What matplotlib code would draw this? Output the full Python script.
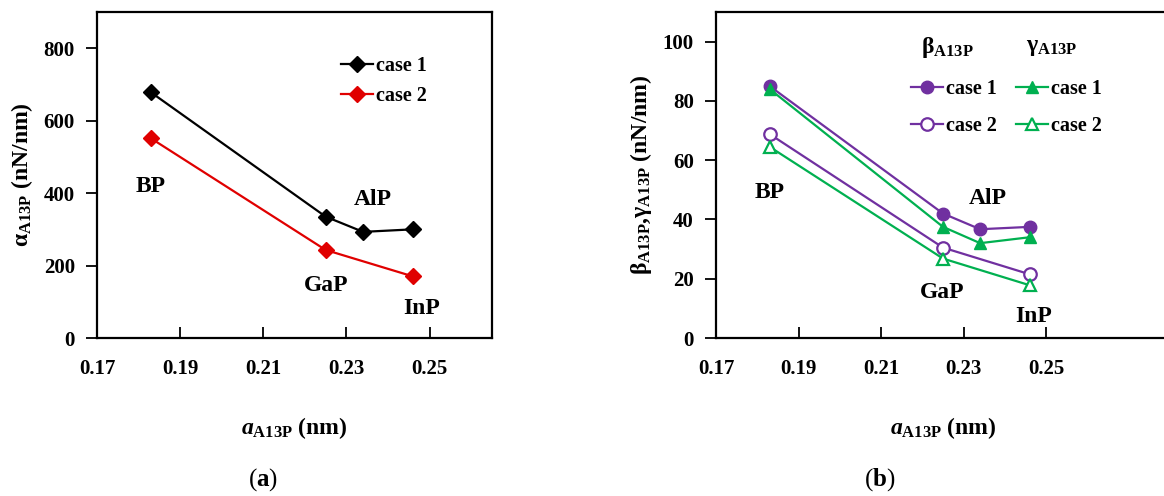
import matplotlib
matplotlib.use('Agg')
import matplotlib.pyplot as plt

plt.rcParams['font.family'] = ['Liberation Serif', 'DejaVu Serif']
plt.rcParams['font.weight'] = 'bold'
plt.rcParams['axes.labelweight'] = 'bold'
plt.rcParams['mathtext.fontset'] = 'custom'
plt.rcParams['mathtext.rm'] = 'Liberation Serif:bold'
plt.rcParams['mathtext.it'] = 'Liberation Serif:italic:bold'
plt.rcParams['mathtext.bf'] = 'Liberation Serif:bold'

# lattice parameter of the A13P compounds (nm)
compounds = ['BP', 'GaP', 'AlP', 'InP']
a_all = [0.183, 0.225, 0.234, 0.246]
a_c2 = [0.183, 0.225, 0.246]

# (a) alpha
alpha_c1 = [678, 335, 293, 300]
alpha_c2 = [551, 243, 170]

# (b) beta and gamma
beta_c1 = [85.0, 42.0, 36.7, 37.5]
beta_c2 = [68.8, 30.5, 21.5]
gamma_c1 = [84.0, 37.5, 32.0, 34.0]
gamma_c2 = [64.5, 26.8, 17.8]

# label positions (data coords)
lab_a = {'BP': (0.183, 419), 'AlP': (0.2363, 383), 'GaP': (0.2251, 146), 'InP': (0.248, 82)}
lab_b = {'BP': (0.183, 49), 'AlP': (0.2358, 47), 'GaP': (0.2247, 15.3), 'InP': (0.2469, 7.4)}

purple = '#7030A0'
green = '#00B050'
red = '#E00000'

W, H = 1164, 496
fig = plt.figure(figsize=(W / 100, H / 100), dpi=100)

ax1 = fig.add_axes([97 / W, (H - 338) / H, 395 / W, 326 / H])
ax2 = fig.add_axes([716 / W, (H - 338) / H, 454 / W, 326 / H])

ax1.plot(a_all, alpha_c1, '-D', color='black', lw=1.6, ms=8.5, label='case 1')
ax1.plot(a_c2, alpha_c2, '-D', color=red, lw=1.6, ms=8.5, label='case 2')
ax1.set_xlim(0.17, 0.265)
ax1.set_ylim(0, 900)
ax1.set_yticks([0, 200, 400, 600, 800])
ax1.set_ylabel(r'α$_{\mathrm{A13P}}$ (nN/nm)', fontsize=17, labelpad=6)
ax1.legend(loc='upper left', bbox_to_anchor=(333 / W, (H - 48) / H), bbox_transform=fig.transFigure,
           frameon=False, fontsize=14.5, handlelength=1.6, handletextpad=0.15, labelspacing=0.5,
           borderaxespad=0)
for k, (x, y) in lab_a.items():
    ax1.text(x, y, k, ha='center', va='center', fontsize=17)

ax2.plot(a_all, beta_c1, '-o', color=purple, lw=1.6, ms=9, label='case 1')
ax2.plot(a_c2, beta_c2, '-o', color=purple, lw=1.6, ms=9, mfc='white', mew=1.6, label='case 2')
ax2.plot(a_all, gamma_c1, '-^', color=green, lw=1.6, ms=9, label='case 1')
ax2.plot(a_c2, gamma_c2, '-^', color=green, lw=1.6, ms=9, mfc='white', mew=1.6, label='case 2')
ax2.set_xlim(0.17, 0.28)
ax2.set_ylim(0, 110)
ax2.set_yticks([0, 20, 40, 60, 80, 100])
ax2.set_ylabel(r'β$_{\mathrm{A13P}}$,γ$_{\mathrm{A13P}}$ (nN/nm)', fontsize=17, labelpad=6)
for k, (x, y) in lab_b.items():
    ax2.text(x, y, k, ha='center', va='center', fontsize=17)

h = ax2.get_lines()
leg_kw = dict(frameon=False, fontsize=14.5, handlelength=1.6, handletextpad=0.15,
              labelspacing=0.85, borderaxespad=0, loc='upper left', bbox_transform=fig.transFigure)
legb = ax2.legend(h[:2], ['case 1', 'case 2'], bbox_to_anchor=(903 / W, (H - 71) / H), **leg_kw)
ax2.add_artist(legb)
ax2.legend(h[2:], ['case 1', 'case 2'], bbox_to_anchor=(1008 / W, (H - 71) / H), **leg_kw)
fig.text(947 / W, 1 - 47 / H, r'β$_{\mathrm{A13P}}$', ha='center', va='center', fontsize=17)
fig.text(1052 / W, 1 - 47 / H, r'γ$_{\mathrm{A13P}}$', ha='center', va='center', fontsize=17)

for ax in (ax1, ax2):
    ax.set_xticks([0.17, 0.19, 0.21, 0.23, 0.25])
    ax.set_xticklabels(['0.17', '0.19', '0.21', '0.23', '0.25'])
    ax.tick_params(axis='x', direction='in', length=8, width=1.3, pad=15, labelsize=15)
    ax.tick_params(axis='y', direction='out', length=8, width=1.3, pad=8, labelsize=15)
    for s in ax.spines.values():
        s.set_linewidth(1.6)
    ax.set_xlabel(r'$a_{\mathrm{A13P}}$ (nm)', fontsize=17, labelpad=26)

fig.text(263 / W, 1 - 480 / H, r'($\mathbf{a}$)', ha='center', va='center', fontsize=18, fontweight='normal')
fig.text(880 / W, 1 - 480 / H, r'($\mathbf{b}$)', ha='center', va='center', fontsize=18, fontweight='normal')

fig.savefig('out.png', dpi=100)
